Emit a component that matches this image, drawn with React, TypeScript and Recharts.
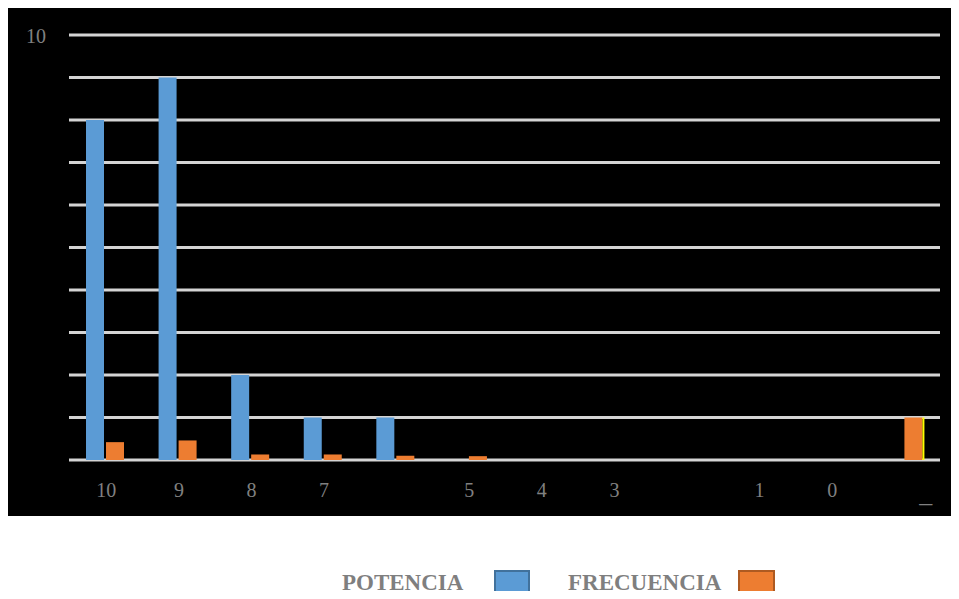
import React from 'react';
import { BarChart, Bar, XAxis, YAxis, CartesianGrid } from 'recharts';

const categories = ['10', '9', '8', '7', '6', '5', '4', '3', '2', '1', '0', '_'];
const tickLabels = ['10', '9', '8', '7', '', '5', '4', '3', '', '1', '0', '_'];
const potencia = [8, 9, 2, 1, 1, 0, 0, 0, 0, 0, 0, 0];
const frecuencia = [0.42, 0.46, 0.13, 0.13, 0.1, 0.09, 0, 0, 0, 0, 0, 1];
const yTicks = [0, 1, 2, 3, 4, 5, 6, 7, 8, 9, 10];
const yLabelShown = 10;

const data = categories.map((c, i) => ({
  cat: c,
  label: tickLabels[i],
  potencia: potencia[i],
  frecuencia: frecuencia[i],
}));

const FONT = "'Liberation Serif', 'Times New Roman', serif";
const GREY = '#808080';

const XTick = (props: any) => {
  const { x, payload, index } = props;
  const lbl = tickLabels[index] ?? '';
  if (lbl === '_') {
    return (
      <text x={x + 22} y={494} textAnchor="middle" fill={GREY} fontFamily={FONT} fontSize={26}>
        {lbl}
      </text>
    );
  }
  return (
    <text x={x + 1} y={489} textAnchor="middle" fill={GREY} fontFamily={FONT} fontSize={20}>
      {lbl}
    </text>
  );
};

const YTick = (props: any) => {
  const { y, payload } = props;
  if (payload.value !== yLabelShown) return <g />;
  return (
    <text x={28} y={y + 7.5} textAnchor="middle" fill={GREY} fontFamily={FONT} fontSize={20}>
      {String(payload.value)}
    </text>
  );
};

const FreqShape = (props: any) => {
  const { x, y, width, height, fill, index } = props;
  if (!height || height <= 0) return <g />;
  return (
    <g>
      <rect x={x} y={y} width={width} height={height} fill={fill} />
      {index === categories.length - 1 ? (
        <rect x={x + width} y={y} width={2} height={height} fill="#ffff00" />
      ) : null}
    </g>
  );
};

export default function App() {
  return (
    <div style={{ position: 'relative', width: 951, height: 591, marginBottom: -8 }}>
      <div
        style={{
          position: 'absolute',
          left: -2,
          top: -2,
          width: 951,
          height: 508,
          background: '#000',
          borderLeft: '2px solid #c8c8c8',
          borderTop: '2px solid #c8c8c8',
        }}
      />
      <div style={{ position: 'absolute', left: 0, top: 0 }}>
        <BarChart
          width={951}
          height={591}
          data={data}
          margin={{ top: 27, right: 19, bottom: 99, left: 0 }}
          barSize={18}
          barGap={2}
        >
          <CartesianGrid horizontal={true} vertical={false} stroke="#d4d4d4" strokeWidth={3} />
          <XAxis
            dataKey="cat"
            height={40}
            axisLine={false}
            tickLine={false}
            interval={0}
            tick={<XTick />}
          />
          <YAxis
            width={61}
            domain={[0, 10]}
            ticks={yTicks}
            axisLine={false}
            tickLine={false}
            interval={0}
            tick={<YTick />}
          />
          <Bar dataKey="potencia" fill="#5b9bd5" isAnimationActive={false} />
          <Bar dataKey="frecuencia" fill="#ed7d31" isAnimationActive={false} shape={<FreqShape />} />
        </BarChart>
      </div>
      <svg
        width={951}
        height={591}
        style={{ position: 'absolute', left: 0, top: 0, pointerEvents: 'none' }}
      >
        <text x={334} y={582} fill="#7f7f7f" fontFamily={FONT} fontWeight="bold" fontSize={23}>
          POTENCIA
        </text>
        <rect x={487} y={563} width={34} height={26} fill="#5b9bd5" stroke="#41719c" strokeWidth={2} />
        <text x={560} y={582} fill="#7f7f7f" fontFamily={FONT} fontWeight="bold" fontSize={23}>
          FRECUENCIA
        </text>
        <rect x={731} y={563} width={35} height={26} fill="#ed7d31" stroke="#ae5a21" strokeWidth={2} />
      </svg>
    </div>
  );
}
